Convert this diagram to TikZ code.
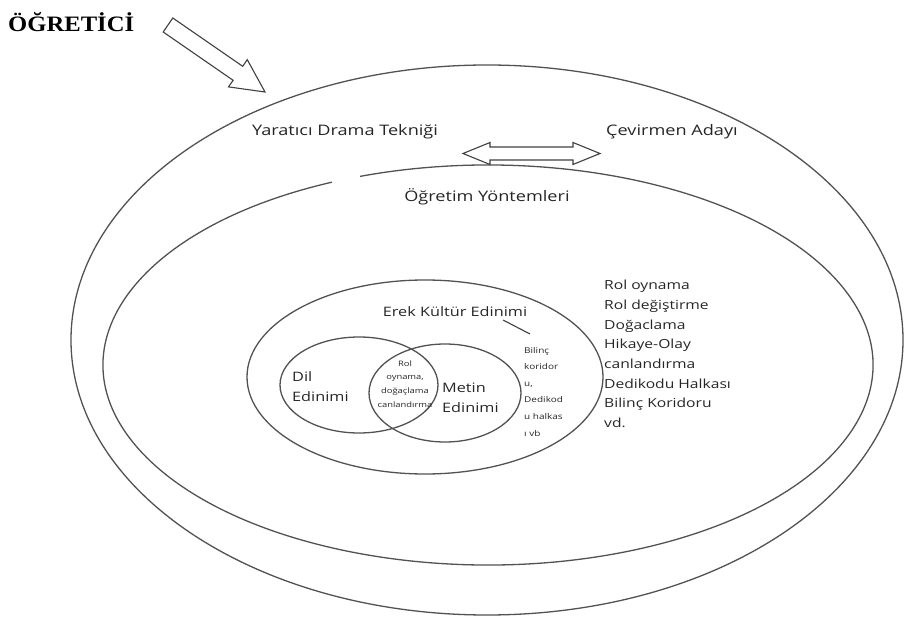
\documentclass[tikz,border=0pt]{standalone}
\usepackage{fontspec}
\setmainfont{Open Sans}[FakeStretch=1.25]
\newfontfamily\titlefont{Liberation Serif}[FakeStretch=1.12]
\begin{document}
\begin{tikzpicture}[x=1pt,y=-1pt,
  ring/.style={draw=black!68, line width=1.3pt},
  blockarrow/.style={draw=black!75, line width=1.1pt, fill=white, line join=miter},
  lbl/.style={text=black!85, inner sep=0pt, font=\fontsize{14.5}{18}\selectfont},
  list/.style={text=black!85, inner sep=0pt, align=left, font=\fontsize{12.5}{19.7}\selectfont},
  small/.style={text=black!85, inner sep=0pt, align=left, font=\fontsize{8}{16.6}\selectfont},
  tiny/.style={text=black!85, inner sep=0pt, align=center, font=\fontsize{7.5}{13.8}\selectfont}]
\useasboundingbox (0,0) rectangle (905,617);
% ellipses
\coordinate (outerc) at (487,340);
\coordinate (innerc) at (488,365);
\coordinate (erekc) at (425,377);
\coordinate (dilc) at (359,385);
\coordinate (metinc) at (445,393);
\draw[ring] (outerc) ellipse [x radius=416pt, y radius=275pt];
\draw[ring] (innerc) ++(113.9:385pt and 200pt)
  arc[start angle=113.9, end angle=469.4, x radius=385pt, y radius=200pt];
\draw[ring] (erekc) ellipse [x radius=178pt, y radius=97pt];
\draw[ring] (dilc) ellipse [x radius=79pt, y radius=48pt];
\draw[ring] (metinc) ellipse [x radius=76pt, y radius=49pt];
% title and big arrow
\node[anchor=west, inner sep=0pt, font=\titlefont\bfseries\fontsize{22}{24}\selectfont] (ogretici) at (8,22) {ÖĞRETİCİ};
\draw[blockarrow] (172.8,18.0) -- (242.7,66.3) -- (247.3,59.7) -- (265,92)
  -- (228.5,86.9) -- (233.1,80.3) -- (163.2,32.0) -- cycle;
% labels
\node[lbl] (yaratici) at (345,132) {Yaratıcı Drama Tekniği};
\node[lbl] (cevirmen) at (672,132) {Çevirmen Adayı};
\node[lbl] (ogretim) at (487,197) {Öğretim Yöntemleri};
\draw[blockarrow] (463,153.5) -- (490,142.5) -- (490,147) -- (573,147) -- (573,142.5)
  -- (600,153.5) -- (573,164.5) -- (573,160) -- (490,160) -- (490,164.5) -- cycle;
\node[lbl, font=\fontsize{13}{16}\selectfont] (erek) at (455,312) {Erek Kültür Edinimi};
\node[small] (bilinc) at (524,391.5) [anchor=west] {Bilinç\\koridor\\u,\\Dedikod\\u halkas\\ı vb};
\coordinate (lineA) at (503,320);
\coordinate (lineB) at (530,334);
\draw[black!75, line width=1.1pt] (lineA) -- (lineB);
\node[list, font=\fontsize{13}{20}\selectfont] (dil) at (292,387) [anchor=west] {Dil\\Edinimi};
\node[list, font=\fontsize{13}{20}\selectfont] (metin) at (442,398) [anchor=west] {Metin\\Edinimi};
\node[tiny] (rol) at (405,384) {Rol\\oynama,\\doğaçlama\\canlandırma};
\node[list] (yontemler) at (604,354) [anchor=west] {Rol oynama\\Rol değiştirme\\Doğaclama\\Hikaye-Olay\\canlandırma\\Dedikodu Halkası\\Bilinç Koridoru\\vd.};
\end{tikzpicture}
\end{document}
